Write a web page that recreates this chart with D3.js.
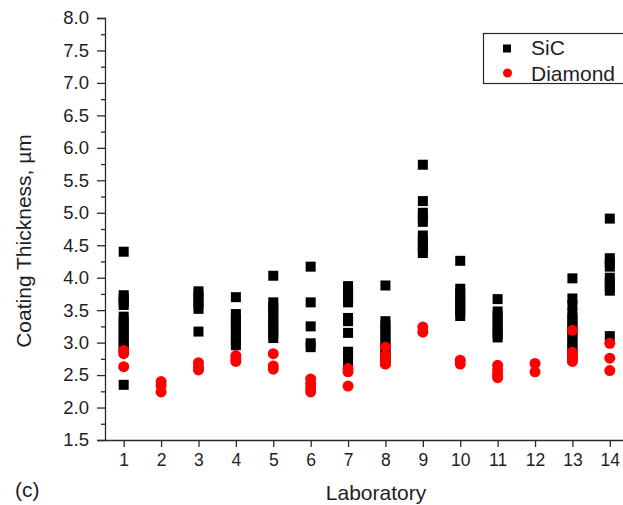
<!DOCTYPE html>
<html>
<head>
<meta charset="utf-8">
<script src="https://cdn.jsdelivr.net/npm/d3@7"></script>
<style>
  html, body { margin: 0; padding: 0; background: #fff; }
  svg { display: block; font-family: "Liberation Sans", Arial, sans-serif; }
</style>
</head>
<body>
<svg id="chart" width="623" height="505"></svg>
<script>
// Laboratory numbers on the x axis
const labs = [1, 2, 3, 4, 5, 6, 7, 8, 9, 10, 11, 12, 13, 14];

// SiC coating thickness measurements (µm), one list per laboratory
const sicValues = [
  [4.40, 3.73, 3.68, 3.62, 3.58, 3.40, 3.33, 3.26, 3.19, 3.12, 3.05, 2.98, 2.92, 2.35],
  [],
  [3.79, 3.73, 3.66, 3.59, 3.52, 3.17],
  [3.70, 3.44, 3.37, 3.30, 3.23, 3.16, 3.09, 3.02, 2.96],
  [4.03, 3.62, 3.55, 3.48, 3.41, 3.34, 3.27, 3.20, 3.13, 3.07],
  [4.17, 3.62, 3.25, 2.99, 2.93],
  [3.87, 3.80, 3.73, 3.66, 3.62, 3.38, 3.33, 3.15, 2.86, 2.80, 2.70],
  [3.88, 3.33, 3.26, 3.19, 3.12, 3.05, 2.98, 2.91, 2.84, 2.77, 2.70],
  [5.74, 5.18, 5.00, 4.93, 4.86, 4.65, 4.58, 4.51, 4.44, 4.38],
  [4.26, 3.83, 3.76, 3.69, 3.62, 3.55, 3.48, 3.41],
  [3.67, 3.48, 3.41, 3.34, 3.27, 3.20, 3.13, 3.08],
  [],
  [3.99, 3.68, 3.58, 3.45, 3.38, 3.31, 3.24, 3.17, 3.10, 3.03, 2.96, 2.89, 2.82, 2.77],
  [4.91, 4.30, 4.23, 4.17, 4.00, 3.93, 3.86, 3.80, 3.10]
];

// Diamond coating thickness measurements (µm), one list per laboratory
const diamondValues = [
  [2.88, 2.83, 2.63],
  [2.40, 2.34, 2.24],
  [2.69, 2.63, 2.58],
  [2.80, 2.75, 2.71],
  [2.83, 2.64, 2.59],
  [2.44, 2.37, 2.30, 2.24],
  [2.60, 2.55, 2.33],
  [2.93, 2.80, 2.74, 2.67],
  [3.24, 3.16],
  [2.73, 2.67],
  [2.65, 2.58, 2.51, 2.46],
  [2.68, 2.55],
  [3.19, 2.85, 2.78, 2.71],
  [2.99, 2.76, 2.57]
];

// Axis tick values
const yMajorTicks = d3.range(1.5, 8.01, 0.5);
const yMinorTicks = d3.range(1.75, 8.0, 0.5);

const seriesNames = ["SiC", "Diamond"];
const seriesColors = ["#000000", "#ff0000"];

const svg = d3.select("#chart");
const plotLeft = 105, plotBottom = 440, plotTop = 18;

const x = d3.scaleLinear().domain([0.5, 14.5]).range([plotLeft, 628.5]);
const y = d3.scaleLinear().domain([1.5, 8.0]).range([plotBottom, plotTop]);

const axisColor = "#2a2a2a";
const textColor = "#1e1e1e";

// y axis with major labelled ticks
const yAxis = svg.append("g")
  .attr("transform", `translate(${plotLeft},0)`)
  .call(d3.axisLeft(y).tickValues(yMajorTicks).tickFormat(d3.format(".1f")).tickSize(8).tickPadding(8));
yAxis.select(".domain").attr("stroke", axisColor).attr("stroke-width", 1.3);
yAxis.selectAll(".tick line").attr("stroke", axisColor).attr("stroke-width", 1.3);
yAxis.selectAll(".tick text")
  .attr("font-size", 18.5).attr("fill", textColor)
  .attr("font-family", "Liberation Sans, Arial, sans-serif");

// minor y ticks
const yMinor = svg.append("g")
  .attr("transform", `translate(${plotLeft},0)`)
  .call(d3.axisLeft(y).tickValues(yMinorTicks).tickFormat("").tickSize(4));
yMinor.select(".domain").remove();
yMinor.selectAll(".tick line").attr("stroke", axisColor).attr("stroke-width", 1.3);

// x axis
const xAxis = svg.append("g")
  .attr("transform", `translate(0,${plotBottom})`)
  .call(d3.axisBottom(x).tickValues(labs).tickFormat(d3.format("d")).tickSize(7).tickSizeOuter(0).tickPadding(7));
xAxis.select(".domain").attr("stroke", axisColor).attr("stroke-width", 1.3);
xAxis.selectAll(".tick line").attr("stroke", axisColor).attr("stroke-width", 1.3);
xAxis.selectAll(".tick text")
  .attr("font-size", 17.5).attr("fill", textColor)
  .attr("font-family", "Liberation Sans, Arial, sans-serif");

// flatten per-lab lists into points
const sicPoints = labs.flatMap((lab, i) => sicValues[i].map(v => ({ lab, v })));
const diamondPoints = labs.flatMap((lab, i) => diamondValues[i].map(v => ({ lab, v })));

const sq = 10;
svg.append("g").selectAll("rect")
  .data(sicPoints)
  .join("rect")
  .attr("x", d => x(d.lab) - sq / 2)
  .attr("y", d => y(d.v) - sq / 2)
  .attr("width", sq)
  .attr("height", sq)
  .attr("fill", seriesColors[0]);

svg.append("g").selectAll("circle")
  .data(diamondPoints)
  .join("circle")
  .attr("cx", d => x(d.lab))
  .attr("cy", d => y(d.v))
  .attr("r", 5.5)
  .attr("fill", seriesColors[1]);

// axis titles
svg.append("text")
  .attr("transform", "translate(31,241) rotate(-90)")
  .attr("text-anchor", "middle")
  .attr("font-size", 21)
  .attr("fill", textColor)
  .text("Coating Thickness, µm");

svg.append("text")
  .attr("x", 376).attr("y", 500)
  .attr("text-anchor", "middle")
  .attr("font-size", 21)
  .attr("fill", textColor)
  .text("Laboratory");

svg.append("text")
  .attr("x", 15).attr("y", 497)
  .attr("font-size", 21)
  .attr("fill", textColor)
  .text("(c)");

// legend
const legend = svg.append("g");
legend.append("rect")
  .attr("x", 483.5).attr("y", 33.5)
  .attr("width", 160).attr("height", 50)
  .attr("fill", "#fff")
  .attr("stroke", axisColor).attr("stroke-width", 1.2);
legend.append("rect")
  .attr("x", 503).attr("y", 44.5).attr("width", 8).attr("height", 8)
  .attr("fill", seriesColors[0]);
legend.append("circle")
  .attr("cx", 507.5).attr("cy", 73).attr("r", 4.5)
  .attr("fill", seriesColors[1]);
legend.selectAll("text.lbl")
  .data(seriesNames)
  .join("text")
  .attr("class", "lbl")
  .attr("x", 531)
  .attr("y", (d, i) => 55 + i * 26)
  .attr("font-size", 21)
  .attr("fill", textColor)
  .text(d => d);
</script>
</body>
</html>
